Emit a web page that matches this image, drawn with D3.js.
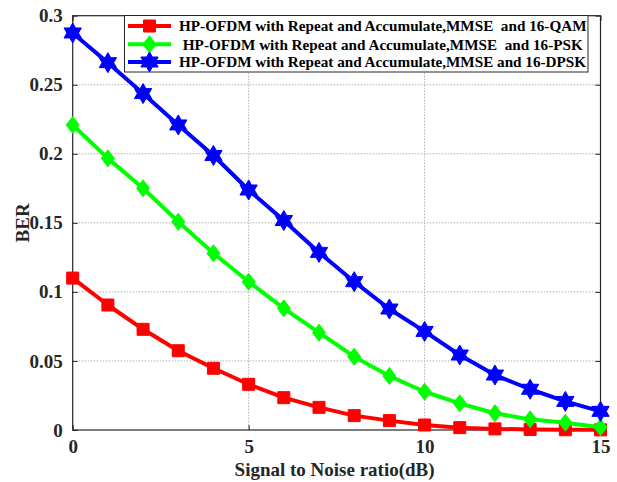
<!DOCTYPE html>
<html><head><meta charset="utf-8">
<script src="https://cdn.jsdelivr.net/npm/d3@7"></script>
<style>
body{margin:0;background:#fff;}
text{font-family:"Liberation Serif","Times New Roman",serif;font-weight:bold;}
</style></head><body>
<svg id="c" width="617" height="482"></svg>
<script>
const snr = [0,1,2,3,4,5,6,7,8,9,10,11,12,13,14,15];
const berQAM = [0.110,0.0905,0.0729,0.0574,0.0447,0.0331,0.0234,0.0164,0.0104,0.0068,0.0036,0.0017,0.0008,0.0004,0.0002,0.0001];
const berPSK = [0.2209,0.1967,0.1750,0.1508,0.1280,0.1074,0.0881,0.0705,0.0531,0.0391,0.0277,0.0193,0.0121,0.0077,0.0053,0.0020];
const berDPSK = [0.2875,0.2660,0.2436,0.2209,0.1988,0.1738,0.1517,0.1286,0.1074,0.0876,0.0714,0.0543,0.0398,0.0295,0.0207,0.0135];
const seriesNames = ["HP-OFDM with Repeat and Accumulate,MMSE  and 16-QAM"," HP-OFDM with Repeat and Accumulate,MMSE  and 16-PSK","HP-OFDM with Repeat and Accumulate,MMSE and 16-DPSK"];
const seriesColors = ["#ff0000","#00ff00","#0000ff"];
const seriesMarkers = ["square","diamond","hexagram"];
const xTicks = [0,5,10,15];
const yTicks = [0,0.05,0.1,0.15,0.2,0.25,0.3];
const xLabel = "Signal to Noise ratio(dB)";
const yLabel = "BER";

const L=72.7, R=600.5, T=15.7, B=430;
const svg = d3.select("#c");
const x = d3.scaleLinear().domain([0,15]).range([L,R]);
const y = d3.scaleLinear().domain([0,0.3]).range([B,T]);

// grid
const g = svg.append("g");
g.selectAll(".gx").data(xTicks.slice(1,-1)).enter().append("line")
 .attr("x1",d=>x(d)).attr("x2",d=>x(d)).attr("y1",T).attr("y2",B)
 .attr("stroke","#b0b0b0").attr("stroke-width",1).attr("stroke-dasharray","1.5,1.5");
g.selectAll(".gy").data(yTicks.slice(1,-1)).enter().append("line")
 .attr("y1",d=>y(d)).attr("y2",d=>y(d)).attr("x1",L).attr("x2",R)
 .attr("stroke","#b0b0b0").attr("stroke-width",1).attr("stroke-dasharray","1.5,1.5");

// axes
const fs=19;
const xa = svg.append("g").attr("transform",`translate(0,${B})`)
 .call(d3.axisBottom(x).tickValues(xTicks).tickSizeInner(-5).tickSizeOuter(0).tickPadding(10).tickFormat(d3.format("d")));
const xa2 = svg.append("g").attr("transform",`translate(0,${T})`)
 .call(d3.axisTop(x).tickValues(xTicks).tickSizeInner(-5).tickSizeOuter(0).tickFormat(""));
const ya = svg.append("g").attr("transform",`translate(${L},0)`)
 .call(d3.axisLeft(y).tickValues(yTicks).tickSizeInner(-5).tickSizeOuter(0).tickPadding(10).tickFormat(d=>d===0?"0":String(+d.toFixed(2))));
const ya2 = svg.append("g").attr("transform",`translate(${R},0)`)
 .call(d3.axisRight(y).tickValues(yTicks).tickSizeInner(-5).tickSizeOuter(0).tickFormat(""));
[xa,xa2,ya,ya2].forEach(a=>{
  a.selectAll("path").remove();
  a.selectAll("line").attr("stroke","#262626").attr("stroke-width",1);
  a.selectAll("text").attr("font-size",fs).attr("fill","#262626")
   .style("font-family","'Liberation Serif',serif").style("font-weight","bold");
});
xa.selectAll("text").attr("dy","0.71em");
// frame
svg.append("rect").attr("x",L).attr("y",T).attr("width",R-L).attr("height",B-T)
 .attr("fill","none").attr("stroke","#262626").attr("stroke-width",1.2);

svg.append("text").attr("x",(L+R)/2-2).attr("y",476).attr("text-anchor","middle")
 .attr("font-size",19).attr("fill","#262626").text(xLabel);
svg.append("text").attr("transform",`translate(29,${(T+B)/2}) rotate(-90)`).attr("text-anchor","middle")
 .attr("font-size",19).attr("fill","#262626").text(yLabel);

function hexPath(r){
  const ri=r/Math.sqrt(3); let p=[];
  for(let i=0;i<12;i++){const a=-Math.PI/2+i*Math.PI/6; const rr=i%2?ri:r; p.push([rr*Math.cos(a),rr*Math.sin(a)]);}
  return "M"+p.map(q=>q[0].toFixed(2)+","+q[1].toFixed(2)).join("L")+"Z";
}
function markerPath(type){
  if(type==="square") return "M-6,-6L6,-6L6,6L-6,6Z";
  if(type==="diamond") return "M0,-8.5L6.5,0L0,8.5L-6.5,0Z";
  return hexPath(10);
}
const data=[berQAM,berPSK,berDPSK];
const line=d3.line().x((d,i)=>x(snr[i])).y(d=>y(d));
data.forEach((s,k)=>{
  svg.append("path").attr("d",line(s)).attr("fill","none").attr("stroke",seriesColors[k]).attr("stroke-width",4).attr("stroke-linejoin","round");
  svg.selectAll(null).data(s).enter().append("path")
   .attr("transform",(d,i)=>`translate(${x(snr[i])},${y(d)})`)
   .attr("d",markerPath(seriesMarkers[k])).attr("fill",seriesColors[k]).attr("stroke",seriesColors[k]).attr("stroke-width",1);
});

// legend
const lg=svg.append("g");
lg.append("rect").attr("x",124.5).attr("y",15.5).attr("width",463.5).attr("height",56.5).attr("fill","#fff").attr("stroke","#262626").attr("stroke-width",1);
const rows=[26,44.3,62];
seriesNames.forEach((n,k)=>{
  lg.append("line").attr("x1",128).attr("x2",171).attr("y1",rows[k]).attr("y2",rows[k]).attr("stroke",seriesColors[k]).attr("stroke-width",4);
  lg.append("path").attr("transform",`translate(149.5,${rows[k]})`).attr("d",markerPath(seriesMarkers[k])).attr("fill",seriesColors[k]).attr("stroke",seriesColors[k]);
  lg.append("text").attr("x",179).attr("y",rows[k]).attr("dy","0.35em").attr("font-size",15.2).attr("fill","#000")
   .style("white-space","pre").attr("xml:space","preserve").text(n);
});
</script></body></html>
